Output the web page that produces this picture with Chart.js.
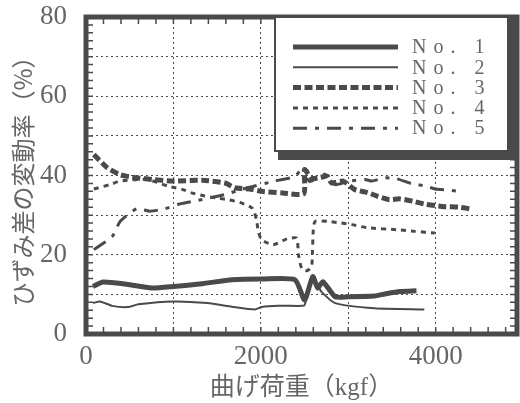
<!DOCTYPE html>
<html>
<head>
<meta charset="utf-8">
<script src="https://cdn.jsdelivr.net/npm/chart.js@4.4.0/dist/chart.umd.min.js"></script>
<style>
html, body { margin: 0; padding: 0; background: #fff; }
</style>
</head>
<body>
<canvas id="myChart" width="520" height="403"></canvas>
<script>
// bending load (kgf) and rate (%) for each specimen
const load1 = [80, 195, 445, 755, 1000, 1330, 1670, 2010, 2390, 2500, 2594, 2650, 2710, 2850, 3000, 3300, 3420, 3590, 3780];
const rate1 = [12.0, 13.1, 12.6, 11.6, 12.0, 12.7, 13.7, 13.9, 13.7, 8.6, 14.5, 11.6, 13.2, 9.4, 9.4, 9.6, 10.1, 10.7, 10.9];

const load2 = [80, 160, 300, 480, 600, 1000, 1390, 1670, 1930, 2010, 2200, 2470, 2500, 2594, 2700, 2850, 3300, 3870];
const rate2 = [7.8, 8.2, 7.1, 6.8, 7.5, 8.2, 7.8, 6.9, 6.2, 6.8, 7.1, 7.1, 7.3, 13.5, 10.5, 7.8, 6.5, 6.2];

const load3 = [90, 240, 390, 525, 755, 1000, 1330, 1590, 1700, 1870, 2010, 2250, 2490, 2500, 2580, 2680, 2760, 2810, 2940, 3070, 3220, 3330, 3470, 3590, 3740, 3870, 4070, 4270, 4390];
const rate3 = [45.3, 42.0, 40.2, 39.6, 39.0, 38.6, 38.8, 38.1, 36.9, 36.6, 36.0, 35.6, 35.4, 41.5, 39.3, 39.5, 39.8, 38.1, 38.6, 36.5, 35.7, 34.8, 33.9, 34.1, 33.5, 32.8, 32.2, 32.0, 31.6];

const load4 = [90, 275, 390, 700, 940, 1100, 1210, 1360, 1500, 1620, 1760, 1900, 1950, 1970, 2010, 2140, 2300, 2410, 2430, 2470, 2530, 2580, 2590, 2600, 2620, 2770, 2920, 3040, 3220, 3570, 3760, 3990];
const rate4 = [36.6, 37.7, 38.6, 39.0, 37.3, 36.5, 35.6, 34.8, 34.3, 33.9, 33.2, 31.8, 28.9, 25.9, 23.8, 22.5, 24.0, 24.2, 20.0, 16.4, 16.0, 17.0, 20.5, 26.3, 28.4, 28.4, 28.0, 27.6, 26.8, 26.3, 25.9, 25.5];

const load5 = [90, 300, 390, 580, 730, 900, 1070, 1280, 1590, 1780, 2160, 2390, 2450, 2560, 2730, 2850, 3000, 3190, 3270, 3420, 3550, 3730, 3900, 3990, 4160, 4300];
const rate5 = [21.3, 24.6, 28.4, 31.6, 31.0, 31.6, 32.8, 33.7, 35.2, 36.5, 38.6, 39.7, 41.1, 38.5, 40.3, 37.7, 38.5, 39.0, 38.6, 39.4, 39.2, 37.9, 37.3, 36.6, 36.3, 35.9];

const seriesNames = ['No. 1', 'No. 2', 'No. 3', 'No. 4', 'No. 5'];
const xTicks = [0, 1000, 2000, 3000, 4000];
const yTicks = [0, 10, 20, 30, 40, 50, 60, 70, 80];
const xTitle = '曲げ荷重（kgf）';
const yTitle = 'ひずみ差の変動率（%）';

const ink = '#4a4a4a';
const textInk = '#666';

function pts(xs, ys) {
    return xs.map((v, i) => ({ x: v, y: ys[i] }));
}

const styles = [
    { borderWidth: 5, borderDash: [] },
    { borderWidth: 2, borderDash: [] },
    { borderWidth: 5, borderDash: [8, 3.5] },
    { borderWidth: 3, borderDash: [5, 5] },
    { borderWidth: 3, borderDash: [14, 8, 4, 8] }
];

const allData = [pts(load1, rate1), pts(load2, rate2), pts(load3, rate3), pts(load4, rate4), pts(load5, rate5)];

const datasets = allData.map((d, i) => ({
    label: seriesNames[i],
    data: d,
    showLine: true,
    borderColor: ink,
    backgroundColor: ink,
    borderWidth: styles[i].borderWidth,
    borderDash: styles[i].borderDash,
    pointRadius: 0,
    tension: 0.2,
    fill: false
}));

// thick frame, inward ticks and the boxed legend
const framePlugin = {
    id: 'frame',
    afterDraw(chart) {
        const { ctx, chartArea: a, scales: { x, y } } = chart;
        ctx.save();
        ctx.strokeStyle = ink;
        ctx.lineWidth = 1.5;
        ctx.beginPath();
        for (let v = 200; v < x.max; v += 200) {
            const px = x.getPixelForValue(v);
            ctx.moveTo(px, a.bottom); ctx.lineTo(px, a.bottom - 7);
            ctx.moveTo(px, a.top); ctx.lineTo(px, a.top + 7);
        }
        for (let v = 2; v < 80; v += 2) {
            const py = y.getPixelForValue(v);
            ctx.moveTo(a.left, py); ctx.lineTo(a.left + 7, py);
            ctx.moveTo(a.right, py); ctx.lineTo(a.right - 7, py);
        }
        ctx.stroke();

        ctx.lineWidth = 5;
        ctx.strokeRect(a.left, a.top, a.width, a.height);

        // legend box with heavy shadow
        const bx = 275, by = a.top, bw = 233, bh = 134;
        ctx.fillStyle = '#fff';
        ctx.fillRect(bx, by, bw, bh);
        ctx.fillStyle = ink;
        ctx.fillRect(bx + bw, by, 10, bh + 9);
        ctx.fillRect(bx + 3, by + bh, bw + 7, 9);
        ctx.lineWidth = 2;
        ctx.strokeRect(bx, by, bw, bh);

        ctx.font = '20px "Liberation Serif", serif';
        ctx.textBaseline = 'middle';
        ctx.textAlign = 'left';
        if ('letterSpacing' in ctx) ctx.letterSpacing = '7px';
        chart.data.datasets.forEach((ds, i) => {
            const ly = by + 30 + i * 20.3;
            ctx.strokeStyle = ink;
            ctx.lineWidth = ds.borderWidth;
            ctx.setLineDash(ds.borderDash);
            ctx.beginPath();
            ctx.moveTo(293, ly);
            ctx.lineTo(398, ly);
            ctx.stroke();
            ctx.setLineDash([]);
            ctx.fillStyle = textInk;
            ctx.fillText(ds.label, 412, ly + 1);
        });
        ctx.restore();
    }
};

new Chart(document.getElementById('myChart').getContext('2d'), {
    type: 'scatter',
    data: { datasets: datasets },
    options: {
        responsive: false,
        animation: false,
        layout: { padding: { top: 17, right: 3, left: 0, bottom: 0 } },
        plugins: {
            legend: { display: false },
            tooltip: { enabled: false }
        },
        scales: {
            x: {
                type: 'linear',
                min: 0,
                max: 4930,
                border: { display: false, dash: [2, 3] },
                grid: { color: ink, lineWidth: 1, drawTicks: false },
                afterBuildTicks: s => { s.ticks = xTicks.map(v => ({ value: v })); },
                ticks: {
                    padding: 7,
                    color: textInk,
                    font: { family: '"Liberation Serif", serif', size: 27 },
                    maxRotation: 0,
                    autoSkip: false,
                    callback: v => (v % 2000 === 0 ? String(v) : '')
                },
                title: {
                    display: true,
                    text: xTitle,
                    color: textInk,
                    padding: 0,
                    font: { family: '"Liberation Serif", "Noto Sans CJK JP", serif', size: 25 }
                },
                afterFit: s => {
                    s.height = 69;
                    s.paddingLeft = 0;
                    s.paddingRight = 0;
                }
            },
            y: {
                type: 'linear',
                min: 0,
                max: 80,
                border: { display: false, dash: [2, 3] },
                grid: { color: ink, lineWidth: 1, drawTicks: false },
                afterBuildTicks: s => { s.ticks = yTicks.map(v => ({ value: v })); },
                ticks: {
                    padding: 19,
                    color: textInk,
                    font: { family: '"Liberation Serif", serif', size: 27 },
                    autoSkip: false,
                    callback: v => (v % 20 === 0 ? String(v) : '')
                },
                title: {
                    display: true,
                    text: yTitle,
                    color: textInk,
                    padding: { top: 8, bottom: 0 },
                    font: { family: '"Noto Sans CJK JP", sans-serif', size: 24 }
                },
                afterFit: s => {
                    s.width = 86;
                    s.paddingTop = 0;
                    s.paddingBottom = 0;
                }
            }
        }
    },
    plugins: [framePlugin]
});
</script>
</body>
</html>
